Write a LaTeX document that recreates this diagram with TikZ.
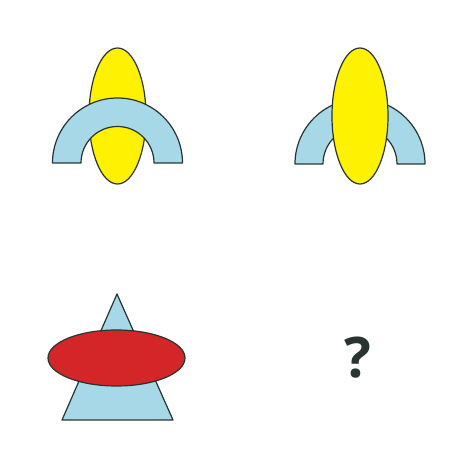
\documentclass[tikz,border=0pt]{standalone}
\usepackage{fontspec}
\setsansfont{Open Sans}
\usetikzlibrary{positioning}
\definecolor{archblue}{RGB}{166,216,232}
\definecolor{bananayellow}{RGB}{255,242,0}
\definecolor{discred}{RGB}{212,38,40}
\definecolor{inkgray}{RGB}{40,52,48}

\begin{document}
\begin{tikzpicture}[x=1pt,y=1pt,
    outline/.style={draw=inkgray, line width=1.2pt, line join=round},
    blueshape/.style={outline, fill=archblue},
    yellowshape/.style={outline, fill=bananayellow},
    redshape/.style={outline, fill=discred}]
  \useasboundingbox (0,0) rectangle (475,474);
  \fill[white] (0,0) rectangle (475,474);

  % panel 1: arch in front of the ellipse
  \draw[yellowshape] (117.5,358) ellipse (28.5 and 68);
  \draw[blueshape] (52.5,311) arc (180:0:65) -- (154,311) arc (0:180:36.5) -- cycle;

  % panel 2: ellipse in front of the arch
  \draw[blueshape] (295,310) arc (180:0:65) -- (397,310) arc (0:180:37) -- cycle;
  \draw[yellowshape] (360,358) ellipse (28 and 68);

  % panel 3: triangle behind the red ellipse
  \draw[blueshape] (117,180) -- (173,54) -- (62,54) -- cycle;
  \draw[redshape] (116.5,116) ellipse (68.5 and 28);

  % panel 4
  \node[text=inkgray, font=\sffamily\bfseries\fontsize{56}{60}\selectfont] (query) at (358,116) {?};
\end{tikzpicture}
\end{document}
